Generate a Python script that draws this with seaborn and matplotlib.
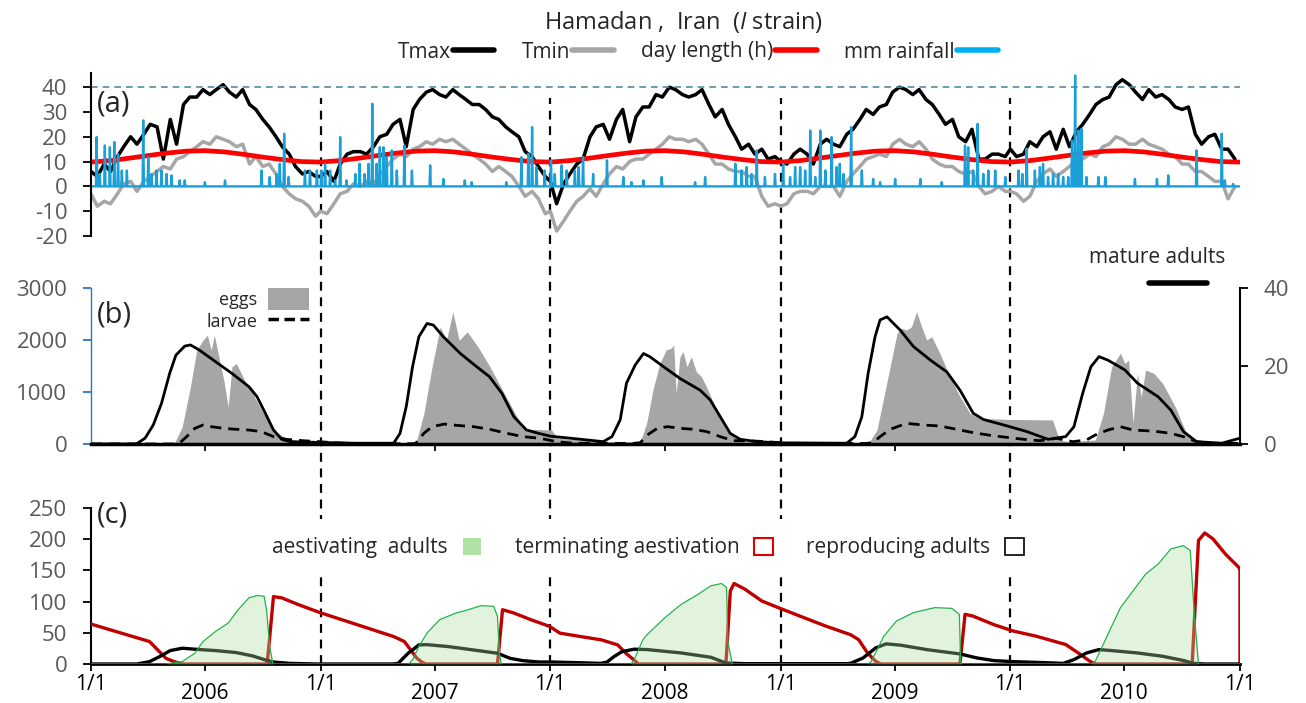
"""
Hamadan, Iran (I strain): weather, immature stages and adult phases, 2006-2010.
"""
import numpy as np
import pandas as pd
import matplotlib
matplotlib.use("Agg")
import matplotlib.pyplot as plt
import matplotlib.dates as mdates
import matplotlib.ticker as mticker
from matplotlib.lines import Line2D
from matplotlib.patches import Patch
import seaborn as sns

START = pd.Timestamp("2006-01-01")
END = pd.Timestamp("2011-01-01")
years = [2006, 2007, 2008, 2009, 2010]

# (a) daily max / min temperature, read about every 10 days of each year
doy_grid = [0, 10, 21, 31, 42, 52, 63, 73, 84, 94, 105, 115, 126, 136, 147, 157, 168, 178,
            189, 199, 210, 220, 231, 241, 252, 262, 273, 283, 294, 304, 315, 325, 336, 346, 357]
tmax_2006 = [6, 4, 9, 6, 12, 16, 20, 17, 21, 25, 24, 11, 27, 17, 33, 36, 36, 39, 37, 39, 41, 38, 36, 39, 33, 31, 27, 24, 20, 16, 13, 8, 5, 6, 4]
tmax_2007 = [4, 6, 2, 9, 13, 14, 14, 13, 16, 20, 21, 25, 27, 16, 31, 35, 38, 39, 37, 36, 39, 37, 35, 33, 33, 31, 28, 27, 24, 22, 20, 14, 12, 8, 4]
tmax_2008 = [2, -7, 1, 5, 9, 11, 20, 24, 25, 19, 27, 31, 18, 28, 32, 32, 37, 36, 40, 39, 37, 36, 37, 39, 33, 28, 31, 25, 20, 15, 17, 13, 15, 11, 12]
tmax_2009 = [10, 9, 13, 15, 13, 9, 17, 19, 17, 16, 21, 23, 27, 31, 29, 32, 33, 38, 40, 39, 37, 39, 35, 33, 29, 25, 27, 20, 18, 23, 11, 11, 13, 13, 12]
tmax_2010 = [15, 12, 13, 18, 16, 20, 22, 15, 23, 16, 22, 25, 29, 33, 35, 36, 41, 43, 41, 38, 35, 39, 36, 37, 35, 32, 31, 32, 21, 17, 20, 21, 15, 15, 11]
tmin_2006 = [-3, -8, -6, -7, -3, 1, 2, -2, 2, 4, 6, 8, 7, 11, 12, 14, 16, 18, 17, 20, 19, 18, 16, 17, 9, 12, 8, 9, 5, 0, -3, -5, -6, -8, -12]
tmin_2007 = [-10, -11, -7, -3, -2, 1, 0, 2, 1, 5, 8, 11, 13, 12, 15, 16, 18, 17, 19, 18, 19, 17, 15, 13, 11, 9, 6, 8, 6, 4, 0, -4, -2, -5, -11]
tmin_2008 = [-10, -18, -14, -10, -6, -4, -1, -4, 1, 5, 8, 7, 10, 11, 11, 13, 15, 17, 20, 19, 19, 18, 19, 17, 13, 9, 9, 7, 6, 6, 4, 4, -4, -8, -7]
tmin_2009 = [-8, -7, -3, -2, -2, -3, 0, 0, 0, -4, 2, 5, 8, 11, 12, 13, 12, 17, 19, 17, 16, 18, 15, 11, 9, 8, 8, 6, 5, 6, 0, -3, -2, 0, -2]
tmin_2010 = [-2, -3, -6, -4, 2, 5, 7, 4, 6, 8, 11, 11, 13, 12, 16, 17, 20, 19, 17, 17, 19, 17, 16, 15, 13, 12, 9, 9, 6, 6, 4, 2, 2, -5, 0]

# day length (h) on the 1st of each month, same every year
daylen_month = [9.8, 10.4, 11.3, 12.4, 13.4, 14.2, 14.4, 13.9, 12.9, 11.8, 10.8, 10.0]

# rain days (days since 1/1/2006) and mm
rain_day = [9, 14, 22, 30, 37, 43, 49, 57, 83, 91, 96, 104, 112, 120, 128, 141, 149, 181, 213, 271, 284, 295, 300, 307, 314, 340, 348, 359,
            366, 372, 380, 388, 396, 406, 420, 427, 435, 441, 447, 454, 459, 465, 470, 478, 486, 498, 510, 539, 560, 594, 605, 660, 684, 695, 701, 708, 721,
            731, 737, 748, 756, 769, 775, 782, 798, 820, 846, 859, 878, 907, 960, 976, 1024, 1034, 1042, 1050, 1058, 1071, 1087,
            1100, 1111, 1119, 1127, 1135, 1143, 1151, 1159, 1167, 1177, 1185, 1190, 1196, 1208, 1225, 1243, 1254, 1278, 1318, 1352, 1389, 1394, 1402, 1409, 1418, 1426, 1437, 1453,
            1474, 1480, 1487, 1500, 1508, 1513, 1521, 1529, 1537, 1545, 1553, 1559, 1564, 1569, 1574, 1582, 1601, 1612, 1659, 1694, 1712, 1757, 1797, 1802, 1815]
rain_mm = [19.9, 5, 16.5, 15.8, 17.9, 13, 6.4, 6.4, 26.6, 11.8, 5, 6.4, 6.4, 5, 4.4, 2.4, 2.4, 1.7, 2.4, 6.4, 3.8, 5, 9.1, 21.2, 3.8, 6.4, 6.4, 6.4,
           6.4, 9.1, 6.4, 2.4, 19.9, 2.4, 5, 9.1, 5, 9.1, 33.3, 9.1, 15.8, 15.8, 11.8, 14.5, 6.4, 16.5, 6.4, 8.5, 3, 2.4, 1.7, 1.7, 11.8, 13.2, 23.9, 7.8, 6.4,
           10.5, 5, 8.5, 6.4, 6.4, 7.8, 11.8, 5, 10.5, 3.8, 1.7, 2.4, 3.8, 1.7, 3.8, 9.1, 6.4, 7.8, 5, 14.5, 3.8, 5,
           9.1, 3.8, 7.8, 7.8, 6.4, 22.5, 3.8, 22.5, 6.4, 19.9, 7.8, 9.1, 5, 23.9, 6.4, 3, 1.7, 3, 3, 1.7, 16.5, 15.8, 6.4, 25.2, 5, 6.4, 6.4, 3.8,
           6.4, 5, 15.2, 6.4, 7.8, 9.1, 3.8, 5, 5, 3.8, 3.8, 18.5, 44.7, 22.5, 23.2, 3.8, 3.8, 3.8, 3, 3, 4.4, 14.5, 21.2, 2.4, 1]

# (b) eggs, larvae (left axis) and mature adults (right axis)
egg_day = [0, 132, 145, 158, 168, 178, 185, 191, 196, 201, 211, 218, 224, 231, 244, 257, 271, 290, 310, 336, 380, 420, 510, 516, 529, 542, 555, 565, 575, 585,
           598, 615, 634, 654, 674, 687, 700, 732, 742, 778, 818, 860, 872, 883, 893, 904, 914, 922, 926, 930, 936, 941, 947, 954, 962, 970, 978, 994, 1010, 1026,
           1040, 1200, 1214, 1235, 1249, 1259, 1270, 1281, 1288, 1296, 1304, 1312, 1320, 1328, 1336, 1349, 1365, 1381, 1397, 1413, 1455, 1528, 1539, 1555, 1596, 1609,
           1622, 1636, 1643, 1649, 1656, 1663, 1669, 1676, 1689, 1703, 1723, 1743, 1757, 1780, 1826]
egg_val = [0, 0, 333, 1100, 1804, 1996, 2092, 1804, 2092, 1804, 1228, 716, 1484, 1548, 1228, 972, 652, 269, 109, 45, 26, 13, 5, 0, 589, 1484, 2252, 1996, 2540, 1996,
           2156, 1868, 1484, 1036, 589, 301, 282, 269, 109, 77, 45, 45, 10, 397, 1038, 1551, 1808, 1840, 1904, 974, 1679, 1776, 1487, 1679, 1391, 1295, 1103, 654, 269, 109,
           45, 45, 13, 0, 269, 846, 1487, 2128, 2224, 2192, 2256, 2545, 2256, 2000, 2064, 1743, 1295, 910, 590, 494, 474, 462, 77, 45, 77, 590,
           1487, 1744, 1551, 1615, 397, 1359, 910, 1423, 1359, 1167, 718, 141, 45, 13, 0]
larva_day = [0, 139, 152, 165, 178, 191, 211, 231, 251, 271, 290, 310, 336, 363, 383, 420, 510, 516, 529, 542, 562, 582, 608, 634, 661, 687, 714, 740, 766, 860,
             873, 884, 900, 916, 937, 958, 979, 1000, 1021, 1042, 1074, 1106, 1230, 1243, 1254, 1270, 1296, 1323, 1349, 1376, 1402, 1429, 1455, 1482, 1508, 1535, 1542, 1560, 1582, 1596,
             1616, 1636, 1656, 1676, 1696, 1716, 1736, 1757, 1780, 1826]
larva_val = [0, 0, 141, 301, 365, 333, 301, 282, 269, 237, 141, 90, 64, 45, 26, 5, 5, 13, 205, 333, 384, 358, 333, 282, 205, 141, 109, 45, 13, 10,
             26, 173, 301, 333, 301, 282, 237, 141, 64, 64, 45, 13, 10, 26, 141, 282, 397, 365, 346, 282, 218, 167, 128, 90, 64, 109, 90, 45, 77, 173,
             269, 333, 269, 256, 237, 205, 141, 45, 13, 13]
adult_day = [0, 72, 86, 99, 112, 125, 135, 149, 158, 172, 198, 224, 251, 264, 277, 290, 303, 317, 365, 420, 481, 491, 501, 511, 521, 534, 544, 560, 587, 613,
             633, 653, 672, 692, 712, 730, 767, 814, 828, 841, 851, 865, 878, 888, 910, 936, 968, 984, 1000, 1016, 1032, 1058, 1095, 1201, 1214, 1225, 1235, 1246, 1254, 1265,
             1286, 1307, 1334, 1360, 1381, 1402, 1418, 1450, 1487, 1521, 1549, 1562, 1576, 1589, 1602, 1616, 1643, 1663, 1696, 1716, 1736, 1757, 1797, 1826]
adult_val = [0, 0, 1.5, 4.9, 10.4, 18.1, 22.8, 25.1, 25.4, 24.1, 21.1, 18.1, 14.7, 12.1, 7.9, 3.6, 1.2, 0.6, 0.4, 0.2, 0.2, 2.7, 9.6, 19.8, 27.5, 30.9, 30.5, 27.5, 23.2, 19.8,
             17.3, 13.0, 7.0, 3.6, 2.7, 2.0, 1.4, 0.6, 1.9, 6.2, 15.6, 20.3, 23.2, 22.4, 19.8, 16.8, 13.8, 11.3, 7.0, 2.7, 1.2, 0.6, 0.3, 0.2, 1.9, 7.0, 18.1, 27.5, 31.8, 32.6,
             29.2, 25.0, 21.5, 18.5, 13.8, 7.9, 6.3, 4.9, 3.2, 1.2, 1.9, 4.4, 13.0, 19.8, 22.4, 21.5, 19.0, 15.6, 12.1, 8.7, 3.2, 0.6, 0.2, 1.5]

# (c) adult phases
aest_day = [0, 119, 145, 165, 178, 198, 218, 234, 251, 264, 275, 279, 284, 289, 505, 511, 521, 534, 554, 580, 600, 620, 640, 646, 649, 652, 858, 863, 877, 884,
            912, 938, 965, 985, 1002, 1010, 1012, 1019, 1235, 1240, 1260, 1280, 1307, 1341, 1368, 1380, 1382, 1384, 1590, 1596, 1616, 1636, 1656, 1676, 1696, 1716,
            1736, 1747, 1753, 1760, 1826]
aest_val = [0, 0, 3.8, 17.2, 36, 52.2, 65.6, 87.1, 106, 109.7, 108.6, 87, 28, 0, 0, 6.5, 28, 49.5, 71, 81.7, 87.1, 93.5, 92.5, 76.3, 17.2, 0, 0, 6.5, 38.7, 47.3,
            74.2, 95.7, 111.8, 125.3, 129, 122.6, 36.6, 0, 0, 4.3, 44.6, 68.8, 82.3, 90.3, 89.2, 79.6, 4.3, 0, 0, 4.3, 47.3, 90.3, 117.2, 144, 160.2, 184.4,
            189.8, 181.7, 85, 0, 0]
term_day = [0, 93, 106, 119, 132, 145, 280, 290, 303, 330, 365, 415, 448, 481, 498, 508, 518, 527, 532, 646, 654, 672, 699, 729, 745, 778, 811, 837, 850, 863,
            870, 1009, 1016, 1022, 1039, 1066, 1093, 1126, 1167, 1207, 1220, 1234, 1247, 1255, 1381, 1389, 1401, 1435, 1466, 1502, 1549, 1569, 1586, 1595, 1750, 1760,
            1770, 1783, 1803, 1824, 1826, 1826]
term_val = [64, 36, 22.6, 9.1, 3.8, 0, 0, 108, 106, 95, 82, 65.6, 54.8, 44, 36, 22.6, 9.1, 2.2, 0, 0, 87, 81.7, 71, 60.2, 49.5, 44, 38.7, 30.6, 17.2, 6.5,
            0, 0, 117, 129, 120, 101, 90, 77, 61, 47, 39, 17.7, 4.3, 0, 0, 79.6, 77, 63, 52.7, 44.6, 31.2, 17.7, 5.4, 0, 0, 198,
            210, 200.5, 176, 155, 150, 0]
repro_day = [0, 73, 93, 109, 126, 145, 165, 198, 231, 257, 277, 290, 316, 360, 480, 488, 504, 521, 534, 567, 607, 646, 666, 686, 712, 732, 778, 810, 820, 831,
             844, 863, 884, 938, 985, 1009, 1040, 1200, 1207, 1227, 1247, 1264, 1287, 1328, 1381, 1408, 1435, 1466, 1515, 1545, 1562, 1582, 1602, 1622, 1663, 1703,
             1737, 1752, 1770, 1826]
repro_val = [0, 0, 3.8, 11.8, 21.5, 25.3, 23.7, 21.5, 18.3, 12.9, 6.5, 3.2, 1, 0, 0, 1, 17.2, 30.6, 31, 28, 22.6, 17.2, 9.1, 5.4, 3.2, 3.2, 2, 1, 3, 11.8,
             19.9, 23.7, 23.1, 17.7, 10.8, 1.6, 0.5, 0.5, 1, 9.7, 25.8, 32.3, 30.1, 23.1, 16.1, 9.7, 5.4, 3.8, 2.2, 1, 7, 17.7, 23.1, 21.5, 17.7, 12.4,
             5.4, 1, 0, 0]

GRAY_TXT = "#595959"
FIG_W, FIG_H = 1306, 703
FONT = "Open Sans"


def to_dates(days):
    return START + pd.to_timedelta(np.asarray(days, dtype=float), unit="D")


def box(top_px, bot_px):
    # axes rectangle from pixel rows of the reference picture
    return [91 / FIG_W, 1 - bot_px / FIG_H, 1149 / FIG_W, (bot_px - top_px) / FIG_H]


def fig_xy(x_px, y_px):
    return (x_px / FIG_W, 1 - y_px / FIG_H)


def line(ax, days, vals, **kw):
    sns.lineplot(x=to_dates(days), y=vals, ax=ax, estimator=None, sort=False, legend=False, **kw)


def clean(ax):
    ax.set_facecolor("none")
    ax.set_xlim(START, END)
    ax.set_xlabel("")
    ax.set_ylabel("")
    for s in ax.spines.values():
        s.set_visible(False)


def show_spine(ax, side, color="black", lw=1.5):
    ax.spines[side].set_visible(True)
    ax.spines[side].set_color(color)
    ax.spines[side].set_linewidth(lw)


def year_ticks(ax, labels):
    ax.xaxis.set_major_locator(mdates.YearLocator())
    ax.xaxis.set_minor_locator(mdates.MonthLocator(bymonth=7))
    if labels:
        ax.xaxis.set_major_formatter(mticker.FuncFormatter(
            lambda v, p: f"{mdates.num2date(v).month}/{mdates.num2date(v).day}"))
        ax.xaxis.set_minor_formatter(mdates.DateFormatter("%Y"))
    else:
        ax.xaxis.set_major_formatter(mticker.NullFormatter())
    ax.tick_params(axis="x", which="both", direction="out", length=5, width=1.3, color="black",
                   labelsize=15, labelcolor="black", bottom=True)
    ax.tick_params(axis="x", which="major", pad=2)
    ax.tick_params(axis="x", which="minor", pad=9)


def y_ticks(ax, ticks, side="left", color="black"):
    ax.set_yticks(ticks)
    ax.tick_params(axis="y", direction="out", length=6, width=1.3, color=color, pad=11,
                   labelsize=16, labelcolor=GRAY_TXT, left=(side == "left"), right=(side == "right"),
                   labelleft=(side == "left"), labelright=(side == "right"))


def main():
    sns.set_theme(style="ticks")
    plt.rcParams["font.family"] = [FONT, "DejaVu Sans"]
    plt.rcParams["axes.unicode_minus"] = False
    plt.rcParams["mathtext.fontset"] = "custom"
    plt.rcParams["mathtext.rm"] = FONT
    plt.rcParams["mathtext.it"] = FONT + ":italic"

    fig = plt.figure(figsize=(FIG_W / 100, FIG_H / 100), dpi=100)
    ax_lines = fig.add_axes(box(98, 664), zorder=0)
    ax_a = fig.add_axes(box(73, 236), zorder=1)
    ax_b = fig.add_axes(box(288, 444), zorder=1)
    ax_b2 = ax_b.twinx()
    ax_b2.set_zorder(1)
    ax_c = fig.add_axes(box(508, 664), zorder=2)

    # year boundaries run through all three panels
    ax_lines.set_xlim(START, END)
    ax_lines.axis("off")
    for y in years[1:]:
        ax_lines.axvline(pd.Timestamp(f"{y}-01-01"), color="black", lw=1.6, ls=(0, (4, 3)))

    # ---- (a) weather
    t_days = np.concatenate([(pd.Timestamp(f"{y}-01-01") - START).days + np.array(doy_grid) for y in years])
    tmax = tmax_2006 + tmax_2007 + tmax_2008 + tmax_2009 + tmax_2010
    tmin = tmin_2006 + tmin_2007 + tmin_2008 + tmin_2009 + tmin_2010
    month_starts = pd.date_range("2006-01-01", "2010-12-01", freq="MS")
    dl_dates = month_starts.append(pd.DatetimeIndex([pd.Timestamp("2010-12-31")]))
    dl_vals = daylen_month * len(years) + [daylen_month[0]]
    all_days = np.arange((pd.Timestamp("2010-12-31") - START).days + 1)
    rain = np.zeros(len(all_days))
    rain[rain_day] = rain_mm

    line(ax_a, t_days, tmin, color="#A6A6A6", lw=2.5)
    line(ax_a, t_days, tmax, color="black", lw=2.5)
    sns.lineplot(x=dl_dates, y=dl_vals, ax=ax_a, color="#FF0000", lw=3.4, legend=False)
    line(ax_a, all_days, rain, color="#1A9FD8", lw=1.7)
    ax_a.axhline(40, color="#4F8BAA", lw=1.2, ls=(0, (4, 3)))
    clean(ax_a)
    ax_a.set_ylim(-20, 45.7)
    show_spine(ax_a, "left", lw=1.5)
    y_ticks(ax_a, [-20, -10, 0, 10, 20, 30, 40])
    ax_a.set_xticks([])

    top_handles = [Line2D([], [], color="black", lw=4), Line2D([], [], color="#A6A6A6", lw=4),
                   Line2D([], [], color="#FF0000", lw=4), Line2D([], [], color="#00B0F0", lw=4)]
    fig.legend(top_handles, ["Tmax", "Tmin", "day length (h)", "mm rainfall"], loc="center",
               bbox_to_anchor=fig_xy(698, 52), ncol=4, markerfirst=False, frameon=False,
               handlelength=2.0, handletextpad=0.1, columnspacing=1.3, fontsize=15)
    fig.text(*fig_xy(683, 22), r"Hamadan ,  Iran  ($\mathit{I}$ strain)", ha="center", va="center",
             fontsize=17)

    # ---- (b) immature stages and mature adults
    ax_b.fill_between(to_dates(egg_day), egg_val, color="#A6A6A6", lw=0)
    line(ax_b, larva_day, larva_val, color="black", lw=2.0, dashes=(4, 2.5))
    line(ax_b2, adult_day, adult_val, color="black", lw=2.0)
    clean(ax_b)
    clean(ax_b2)
    ax_b.set_ylim(0, 3000)
    ax_b2.set_ylim(0, 40)
    show_spine(ax_b, "left", color="#2E75B6", lw=1.0)
    show_spine(ax_b, "bottom", lw=2.5)
    show_spine(ax_b2, "right", lw=1.5)
    y_ticks(ax_b, [0, 1000, 2000, 3000], color="#2E75B6")
    y_ticks(ax_b2, [0, 20, 40], side="right")
    year_ticks(ax_b, labels=False)
    ax_b2.set_xticks([])

    ax_b.legend([Patch(facecolor="#A6A6A6", edgecolor="none"), Line2D([], [], color="black", lw=2.5, dashes=(3, 1.6))],
                ["eggs", "larvae"], loc="upper left", bbox_to_anchor=fig_xy(197, 279),
                bbox_transform=fig.transFigure, markerfirst=False, frameon=False, fontsize=13,
                handlelength=2.3, handleheight=1.5, handletextpad=0.6, labelspacing=0.0, borderpad=0)
    ax_b2.legend([Line2D([], [], color="black", lw=4)], [""], title="mature adults",
                 title_fontsize=15, fontsize=15, loc="upper center", bbox_to_anchor=fig_xy(1157, 228),
                 bbox_transform=fig.transFigure, frameon=False, markerfirst=False,
                 handlelength=2.8, handletextpad=2.0, labelspacing=0.3, alignment="center")

    # ---- (c) adult phases
    line(ax_c, term_day, term_val, color="#C00000", lw=2.4, zorder=3)
    line(ax_c, repro_day, repro_val, color="black", lw=2.4, zorder=3)
    ax_c.fill_between(to_dates(aest_day), aest_val, color="#A9DF9F", alpha=0.35, lw=0, zorder=4)
    line(ax_c, aest_day, aest_val, color="#22B14C", lw=0.9, zorder=4)
    clean(ax_c)
    ax_c.set_ylim(0, 250)
    show_spine(ax_c, "left", lw=1.5)
    show_spine(ax_c, "bottom", lw=2.0)
    y_ticks(ax_c, [0, 50, 100, 150, 200, 250])
    year_ticks(ax_c, labels=True)

    leg_c = ax_c.legend([Patch(facecolor="#B0E2A6", edgecolor="none"),
                         Patch(facecolor="white", edgecolor="#E00000", lw=1.5),
                         Patch(facecolor="white", edgecolor="black", lw=1.2)],
                        ["aestivating  adults", "terminating aestivation", "reproducing adults"],
                        loc="center", bbox_to_anchor=fig_xy(648, 548), bbox_transform=fig.transFigure,
                        ncol=3, markerfirst=False, fontsize=15, handlelength=0.9, handleheight=0.9,
                        handletextpad=0.7, columnspacing=1.6, borderpad=0.9,
                        frameon=True, fancybox=False, framealpha=1, edgecolor="none", facecolor="white")
    leg_c.set_zorder(1)  # white box hides the year lines but not the curves

    # panel letters
    for txt, y_px in [("(a)", 104), ("(b)", 315), ("(c)", 515)]:
        fig.text(*fig_xy(97, y_px), txt, ha="left", va="center", fontsize=21)

    fig.savefig("out.png", dpi=100)


if __name__ == "__main__":
    main()
